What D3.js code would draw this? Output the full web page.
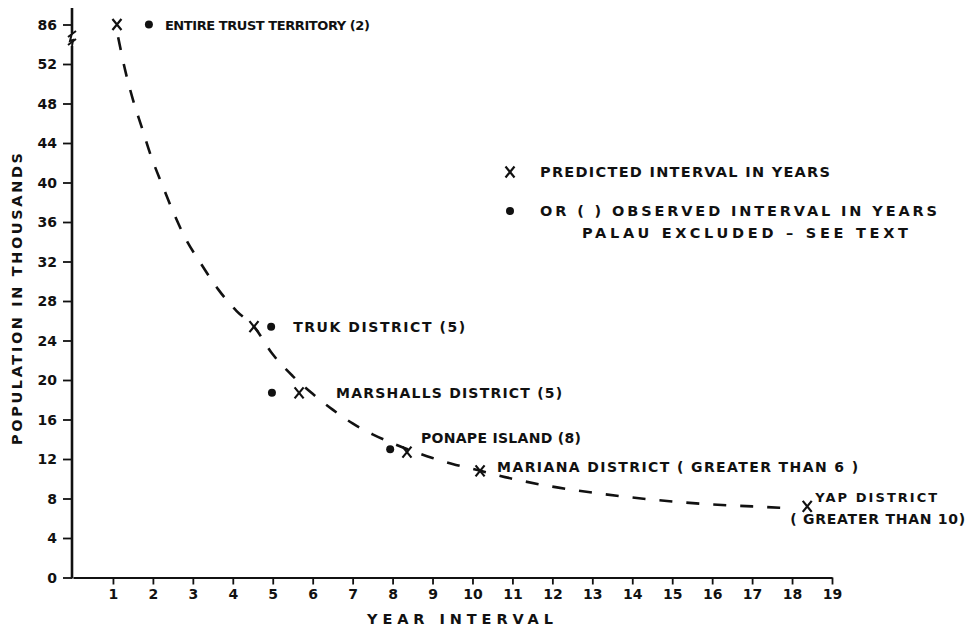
<!DOCTYPE html>
<html>
<head>
<meta charset="utf-8">
<script src="https://cdn.jsdelivr.net/npm/d3@7"></script>
<style>
  html, body { margin: 0; padding: 0; background: #fff; }
  svg { display: block; }
  text { font-family: "DejaVu Sans", "Liberation Sans", sans-serif; fill: #111; }
</style>
</head>
<body>
<svg id="chart" width="974" height="628"></svg>
<script>
// ---------------- data ----------------
const districts      = ["ENTIRE TRUST TERRITORY (2)", "TRUK DISTRICT (5)", "MARSHALLS DISTRICT (5)", "PONAPE ISLAND (8)", "MARIANA DISTRICT ( GREATER THAN 6 )", "YAP DISTRICT"];
const population     = [86, 25.4, 18.7, 12.7, 10.8, 7.2];          // thousands
const predictedYears = [1.1, 4.53, 5.66, 8.36, 10.19, 18.38];
const observedYears  = [1.9, 4.96, 4.98, 7.94, null, null];
const observedPop    = [86, 25.4, 18.7, 13.0, null, null];
const curveYears     = [1.13, 1.31, 1.50, 1.72, 1.95, 2.22, 2.50, 2.82, 3.20, 3.63, 4.09, 4.53, 5.0, 5.5, 6.0, 6.5, 7.0, 7.5, 8.0, 8.5, 9.0, 9.5, 10.2, 11.0, 12.0, 13.0, 14.0, 15.0, 16.0, 17.0, 18.0];
const curvePop       = [75.0, 51.3, 48.4, 45.6, 42.7, 39.9, 37.1, 34.3, 31.8, 29.2, 27.0, 25.4, 22.6, 20.4, 18.6, 17.0, 15.6, 14.5, 13.6, 12.8, 12.1, 11.5, 10.8, 10.0, 9.2, 8.6, 8.1, 7.7, 7.4, 7.2, 7.0];
const yTickValues    = [0, 4, 8, 12, 16, 20, 24, 28, 32, 36, 40, 44, 48, 52, 86];
const xTickValues    = [1, 2, 3, 4, 5, 6, 7, 8, 9, 10, 11, 12, 13, 14, 15, 16, 17, 18, 19];
const xTitle = "YEAR   INTERVAL";
const yTitle = "POPULATION   IN   THOUSANDS";
const legendPredicted = "PREDICTED INTERVAL IN YEARS";
const legendObserved  = "OR  (   )  OBSERVED INTERVAL IN YEARS";
const legendNote      = "PALAU  EXCLUDED – SEE TEXT";
const yapSecondLine   = "( GREATER THAN 10)";

// ---------------- layout ----------------
const svg = d3.select("#chart");
const x = d3.scaleLinear().domain([0, 19]).range([73, 832]);
// broken axis: 86 is drawn one step above 52
const y = d3.scaleLinear().domain([0, 52, 86]).range([577.5, 64, 24.5]);
const ink = "#111";

// y axis
const yAxis = d3.axisLeft(y).tickValues(yTickValues).tickSize(9).tickPadding(6).tickFormat(d3.format("d"));
const gy = svg.append("g").attr("transform", `translate(${x(0) - 1},0)`).call(yAxis);
gy.select(".domain").remove();
gy.selectAll(".tick line").attr("stroke", ink).attr("stroke-width", 1.8);
gy.selectAll(".tick text").attr("font-size", 14).attr("font-weight", "bold").attr("fill", ink).attr("dy", "0.35em");

// y axis line with break
const ax = x(0) - 1;
svg.append("line").attr("x1", ax).attr("x2", ax).attr("y1", 8).attr("y2", 33)
  .attr("stroke", ink).attr("stroke-width", 2.6);
svg.append("line").attr("x1", ax).attr("x2", ax).attr("y1", 46).attr("y2", y(0) + 1)
  .attr("stroke", ink).attr("stroke-width", 2.6);
svg.append("path").attr("d", `M${ax - 4},${37} L${ax + 4},${31} M${ax - 4},${45} L${ax + 4},${39}`)
  .attr("stroke", ink).attr("stroke-width", 2).attr("fill", "none");
svg.append("path").attr("d", `M${ax},${33} L${ax - 2},${41} L${ax + 1},${40} L${ax},${46}`)
  .attr("stroke", ink).attr("stroke-width", 2).attr("fill", "none");

// x axis
const xAxis = d3.axisBottom(x).tickValues(xTickValues).tickSize(7).tickSizeOuter(0).tickPadding(5).tickFormat(d3.format("d"));
const gx = svg.append("g").attr("transform", `translate(0,${y(0)})`).call(xAxis);
gx.select(".domain").attr("stroke", ink).attr("stroke-width", 2.2);
gx.selectAll(".tick line").attr("stroke", ink).attr("stroke-width", 1.8);
gx.selectAll(".tick text").attr("font-size", 14).attr("font-weight", "bold").attr("fill", ink);

// axis titles
svg.append("text").attr("x", 367).attr("y", 624).attr("font-size", 14.5).attr("font-weight", "bold")
  .attr("textLength", 186).attr("lengthAdjust", "spacing").text(xTitle);
svg.append("text").attr("transform", "translate(22,445) rotate(-90)").attr("font-size", 14.5).attr("font-weight", "bold")
  .attr("textLength", 292).attr("lengthAdjust", "spacing").text(yTitle);

// dashed curve
const curve = curveYears.map((d, i) => [d, curvePop[i]]);
svg.append("path").datum(curve)
  .attr("d", d3.line().x(d => x(d[0])).y(d => y(d[1])).curve(d3.curveMonotoneX))
  .attr("fill", "none").attr("stroke", ink).attr("stroke-width", 2.6)
  .attr("stroke-dasharray", "13,14");

// predicted X marks
const xMark = 4.5;
svg.append("g").selectAll("path").data(predictedYears).join("path")
  .attr("d", (d, i) => {
    const cx = x(d), cy = y(population[i]);
    return `M${cx - xMark},${cy - 5.5} L${cx + xMark},${cy + 5.5} M${cx + xMark},${cy - 5.5} L${cx - xMark},${cy + 5.5}`;
  })
  .attr("stroke", ink).attr("stroke-width", 2.2).attr("fill", "none");

// observed dots
svg.append("g").selectAll("circle").data(observedYears.map((d, i) => [d, observedPop[i]]).filter(d => d[0] != null)).join("circle")
  .attr("cx", d => x(d[0])).attr("cy", d => y(d[1])).attr("r", 4).attr("fill", ink);

// labels (offset from the marks)
const labelSpec = [
  { dx: 16, ref: "obs", dy: 5, len: 205, fs: 13 },
  { dx: 22, ref: "obs", dy: 5, len: 172, fs: 14 },
  { dx: 37, ref: "pred", dy: 5, len: 226, fs: 14 },
  { dx: 14, ref: "pred", dy: -9, len: 160, fs: 14 },
  { dx: 17, ref: "pred", dy: 1, len: 361, fs: 14 },
  { dx: 8, ref: "pred", dy: -4, len: 122, fs: 13 }
];
districts.forEach((name, i) => {
  const s = labelSpec[i];
  const bx = s.ref === "obs" ? x(observedYears[i]) : x(predictedYears[i]);
  svg.append("text").attr("x", bx + s.dx).attr("y", y(population[i]) + s.dy)
    .attr("font-size", s.fs).attr("font-weight", "bold")
    .attr("textLength", s.len).attr("lengthAdjust", "spacing").text(name);
});
svg.append("text").attr("x", x(predictedYears[5]) - 17).attr("y", y(population[5]) + 18)
  .attr("font-size", 14).attr("font-weight", "bold")
  .attr("textLength", 175).attr("lengthAdjust", "spacing").text(yapSecondLine);

// legend
const lg = svg.append("g");
lg.append("path").attr("d", "M505.5,166.5 L514.5,177.5 M514.5,166.5 L505.5,177.5")
  .attr("stroke", ink).attr("stroke-width", 2.2).attr("fill", "none");
lg.append("text").attr("x", 540).attr("y", 177).attr("font-size", 14.5).attr("font-weight", "bold")
  .attr("textLength", 290).attr("lengthAdjust", "spacing").text(legendPredicted);
lg.append("circle").attr("cx", 510).attr("cy", 211).attr("r", 4).attr("fill", ink);
lg.append("text").attr("x", 540).attr("y", 216).attr("font-size", 14.5).attr("font-weight", "bold")
  .attr("textLength", 397).attr("lengthAdjust", "spacing").text(legendObserved);
lg.append("text").attr("x", 582).attr("y", 238).attr("font-size", 14.5).attr("font-weight", "bold")
  .attr("textLength", 326).attr("lengthAdjust", "spacing").text(legendNote);
</script>
</body>
</html>
